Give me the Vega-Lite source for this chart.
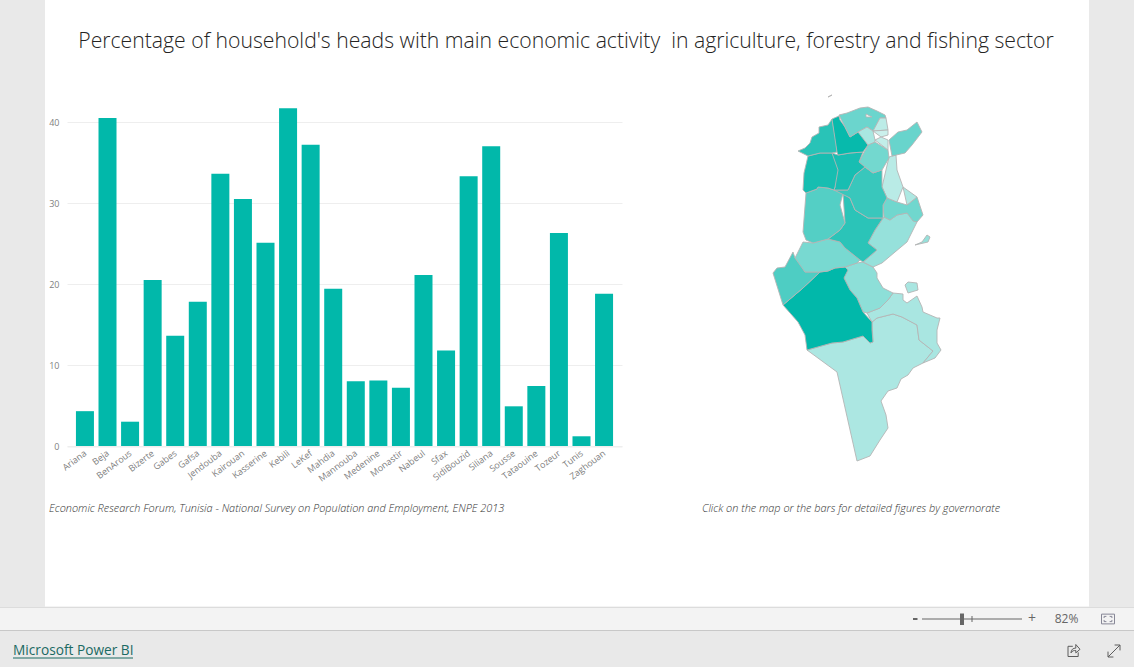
{"$schema":"https://vega.github.io/schema/vega-lite/v6.json","background":"#e9e9e9","padding":0,"spacing":0,"config":{"view":{"stroke":null},"concat":{"spacing":0},"font":"Open Sans"},
"datasets":{
"one":[{"k":1}],
"gov":[{"gov":"Ariana","pct":4.3},{"gov":"Beja","pct":40.5},{"gov":"BenArous","pct":3.0},{"gov":"Bizerte","pct":20.5},{"gov":"Gabes","pct":13.6},{"gov":"Gafsa","pct":17.8},{"gov":"Jendouba","pct":33.6},{"gov":"Kairouan","pct":30.5},{"gov":"Kasserine","pct":25.1},{"gov":"Kebili","pct":41.7},{"gov":"LeKef","pct":37.2},{"gov":"Mahdia","pct":19.4},{"gov":"Mannouba","pct":8.0},{"gov":"Medenine","pct":8.1},{"gov":"Monastir","pct":7.2},{"gov":"Nabeul","pct":21.1},{"gov":"Sfax","pct":11.8},{"gov":"SidiBouzid","pct":33.3},{"gov":"Siliana","pct":37.0},{"gov":"Sousse","pct":4.9},{"gov":"Tataouine","pct":7.4},{"gov":"Tozeur","pct":26.3},{"gov":"Tunis","pct":1.2},{"gov":"Zaghouan","pct":18.8}],
"map":[
{"type":"Feature","properties":{"gov":"Tataouine","pct":7.4},"geometry":{"type":"Polygon","coordinates":[[[100,139],[105,143],[121,147],[130,144],[145,136],[147,121],[161,110],[151,98],[141,93],[136,86],[129,82],[125,73],[116,70],[109,60],[114,46],[116,33],[108,21],[98,5],[85,0],[65,89],[35,111],[60,118],[71,119],[91,125],[98,118],[101,119],[100,131]]]}},
{"type":"Feature","properties":{"gov":"Medenine","pct":8.1},"geometry":{"type":"MultiPolygon","coordinates":[[[[95,148],[108,153],[116,161],[121,168],[131,167],[131,161],[135,158],[145,165],[150,154],[151,149],[165,143],[168,143],[165,131],[165,118],[169,111],[163,103],[151,98],[161,110],[147,121],[145,136],[130,144],[121,147],[105,143],[100,139],[91,149]]],[[[133,176],[136,179],[145,178],[146,171],[136,168],[133,171]]]]}},
{"type":"Feature","properties":{"gov":"Gabes","pct":13.6},"geometry":{"type":"Polygon","coordinates":[[[73,194],[85,198],[91,199],[101,194],[105,188],[105,183],[111,173],[121,168],[116,161],[108,153],[95,148],[91,149],[85,163],[78,171],[72,183],[76,191]]]}},
{"type":"Feature","properties":{"gov":"Kebili","pct":41.7},"geometry":{"type":"Polygon","coordinates":[[[11,156],[31,173],[48,189],[56,190],[63,193],[73,194],[76,191],[72,183],[78,171],[85,163],[91,149],[100,139],[100,131],[101,119],[98,118],[91,125],[71,119],[60,118],[35,111],[33,126],[26,139],[13,144]]]}},
{"type":"Feature","properties":{"gov":"Tozeur","pct":26.3},"geometry":{"type":"Polygon","coordinates":[[[1,188],[5,193],[13,194],[21,209],[23,203],[28,198],[33,189],[48,189],[31,173],[11,156],[3,173]]]}},
{"type":"Feature","properties":{"gov":"Gafsa","pct":17.8},"geometry":{"type":"Polygon","coordinates":[[[23,203],[31,219],[41,218],[56,222],[68,219],[73,213],[88,201],[85,198],[73,194],[63,193],[56,190],[48,189],[33,189],[28,198]]]}},
{"type":"Feature","properties":{"gov":"Sfax","pct":11.8},"geometry":{"type":"MultiPolygon","coordinates":[[[[112,244],[118,241],[125,246],[135,248],[145,239],[135,219],[123,209],[110,198],[101,194],[91,199],[105,211],[96,218],[103,231],[111,243]]],[[[143,216],[150,219],[155,226],[158,224],[156,219],[148,216]]]]}},
{"type":"Feature","properties":{"gov":"SidiBouzid","pct":33.3},"geometry":{"type":"Polygon","coordinates":[[[71,268],[78,263],[83,251],[96,243],[111,243],[103,231],[96,218],[105,211],[91,199],[88,201],[73,213],[68,219],[56,222],[68,231],[73,238],[68,256]]]}},
{"type":"Feature","properties":{"gov":"Kasserine","pct":25.1},"geometry":{"type":"Polygon","coordinates":[[[34,268],[45,272],[46,274],[56,273],[62,271],[71,268],[68,256],[73,238],[68,231],[56,222],[41,218],[34,221],[31,229],[37,246]]]}},
{"type":"Feature","properties":{"gov":"Mahdia","pct":19.4},"geometry":{"type":"Polygon","coordinates":[[[111,256],[115,263],[125,259],[135,256],[145,264],[151,246],[145,239],[141,240],[135,248],[125,246],[118,241],[112,244],[111,243]]]}},
{"type":"Feature","properties":{"gov":"Monastir","pct":7.2},"geometry":{"type":"Polygon","coordinates":[[[131,274],[145,264],[135,256],[125,259]]]}},
{"type":"Feature","properties":{"gov":"Sousse","pct":4.9},"geometry":{"type":"Polygon","coordinates":[[[117,304],[124,306],[125,291],[131,274],[125,259],[115,263],[110,274],[110,291]]]}},
{"type":"Feature","properties":{"gov":"Kairouan","pct":30.5},"geometry":{"type":"Polygon","coordinates":[[[62,271],[76,271],[83,286],[93,294],[101,288],[110,291],[110,274],[115,263],[111,256],[111,243],[96,243],[83,251],[78,263],[71,268]]]}},
{"type":"Feature","properties":{"gov":"Zaghouan","pct":18.8},"geometry":{"type":"Polygon","coordinates":[[[96,316],[103,319],[116,311],[117,303],[110,291],[101,288],[93,294],[87,299],[91,309]]]}},
{"type":"Feature","properties":{"gov":"Siliana","pct":37.0},"geometry":{"type":"Polygon","coordinates":[[[60,308],[66,306],[78,308],[91,309],[87,299],[93,294],[83,286],[76,271],[62,271],[63,274],[66,291]]]}},
{"type":"Feature","properties":{"gov":"LeKef","pct":37.2},"geometry":{"type":"Polygon","coordinates":[[[36,305],[48,308],[60,308],[66,291],[63,274],[62,271],[56,273],[46,274],[45,272],[34,268],[31,271],[32,288],[34,296]]]}},
{"type":"Feature","properties":{"gov":"Jendouba","pct":33.6},"geometry":{"type":"Polygon","coordinates":[[[26,310],[33,313],[38,318],[40,324],[47,328],[47,334],[56,336],[60,342],[64,321],[65,309],[60,308],[48,308],[36,305],[28,308]]]}},
{"type":"Feature","properties":{"gov":"Beja","pct":40.5},"geometry":{"type":"Polygon","coordinates":[[[60,342],[67,345],[68,341],[73,334],[78,324],[86,329],[90,326],[96,316],[91,309],[78,308],[66,306],[65,309],[64,321]]]}},
{"type":"Feature","properties":{"gov":"Bizerte","pct":20.5},"geometry":{"type":"MultiPolygon","coordinates":[[[[67,346],[75,348],[88,353],[96,354],[105,350],[113,346],[114,343],[108,343],[103,333],[101,330],[95,334],[86,329],[78,324],[73,334],[68,341]],[[94,347],[94,344],[100,344],[100,347]]],[[[56,364],[60,366],[59,363]]]]}},
{"type":"Feature","properties":{"gov":"Mannouba","pct":8.0},"geometry":{"type":"Polygon","coordinates":[[[86,329],[95,334],[101,330],[103,321],[103,319],[96,316],[90,326]]]}},
{"type":"Feature","properties":{"gov":"Ariana","pct":4.3},"geometry":{"type":"Polygon","coordinates":[[[108,343],[114,343],[116,331],[101,330],[103,333]]]}},
{"type":"Feature","properties":{"gov":"Tunis","pct":1.2},"geometry":{"type":"Polygon","coordinates":[[[101,330],[116,331],[116,326],[109,324],[103,321]]]}},
{"type":"Feature","properties":{"gov":"BenArous","pct":3.0},"geometry":{"type":"Polygon","coordinates":[[[103,321],[109,324],[116,321],[116,311],[103,319]]]}},
{"type":"Feature","properties":{"gov":"Nabeul","pct":21.1},"geometry":{"type":"Polygon","coordinates":[[[117,321],[126,329],[135,331],[145,339],[150,329],[140,316],[133,308],[120,305],[117,311]]]}}
]},
"vconcat":[
{"spacing":0,"bounds":"flush","hconcat":[
{"width":44.5,"height":606.5,"data":{"values":[]},"mark":{"type":"text"}},
{"width":1044,"height":606.5,"view":{"fill":"#ffffff","stroke":null},
"layer":[
{"data":{"name":"gov"},"mark":{"type":"bar","color":"#01b8aa"},
"encoding":{
"x":{"field":"gov","type":"nominal","sort":null,"title":null,"scale":{"range":[22,577],"paddingInner":0.2025,"paddingOuter":0.396},
"axis":{"orient":"bottom","offset":-160,"labelAngle":-37,"labelAlign":"right","labelBaseline":"top","labelFontSize":9,"labelColor":"#808080","labelPadding":2,"labelOffset":-2,"ticks":false,"domain":true,"domainColor":"#eeeeee","grid":false,"labelOverlap":false,"labelFont":"Open Sans"}},
"y":{"field":"pct","type":"quantitative","title":null,"scale":{"domain":[0,45],"range":[446,81.5],"nice":false},
"axis":{"orient":"left","offset":-18,"values":[0,10,20,30,40],"ticks":false,"domain":false,"grid":true,"gridColor":"#eeeeee","labelFontSize":9,"labelColor":"#808080","labelPadding":4,"labelFont":"Open Sans"}}}},
{"data":{"name":"map"},"mark":{"type":"geoshape","stroke":"#b4b4b4","strokeWidth":0.9},
"projection":{"type":"identity","reflectY":true,"scale":1,"translate":[727,461]},
"encoding":{"color":{"field":"properties.pct","type":"quantitative","legend":null,"scale":{"domain":[1.2,41.7],"range":["#cbf0ec","#01b8aa"],"interpolate":"rgb"}}}},
{"data":{"values":[{"label":"Percentage of household's heads with main economic activity \u00a0in agriculture, forestry and fishing sector"}]},"mark":{"type":"text","x":521,"y":42,"align":"center","baseline":"middle","fontSize":21.2,"fontWeight":300,"color":"#252423","font":"Open Sans"},"encoding":{"text":{"field":"label"}}},
{"data":{"values":[{"label":"Economic Research Forum, Tunisia - National Survey on Population and Employment, ENPE 2013"}]},"mark":{"type":"text","x":4,"y":509,"align":"left","baseline":"middle","fontSize":10.9,"fontStyle":"italic","fontWeight":300,"color":"#333333","font":"Open Sans"},"encoding":{"text":{"field":"label"}}},
{"data":{"values":[{"label":"Click on the map or the bars for detailed figures by governorate"}]},"mark":{"type":"text","x":806,"y":509,"align":"center","baseline":"middle","fontSize":10.9,"fontStyle":"italic","fontWeight":300,"color":"#333333","font":"Open Sans"},"encoding":{"text":{"field":"label"}}}
]}
]},
{"width":1134,"height":1,"view":{"fill":"#dcdcdc","stroke":null},"data":{"values":[]},"mark":{"type":"text"}},
{"width":1134,"height":22,"view":{"fill":"#f3f3f3","stroke":null},"data":{"name":"one"},
"layer":[
{"mark":{"type":"rect","x":922,"x2":1022,"y":10.5,"y2":11.5,"color":"#666666"},"encoding":{}},
{"mark":{"type":"rect","x":913,"x2":917.5,"y":10,"y2":12,"color":"#666666"},"encoding":{}},
{"mark":{"type":"rect","x":971.5,"x2":972.5,"y":8,"y2":14,"color":"#666666"},"encoding":{}},
{"mark":{"type":"rect","x":960,"x2":964,"y":5.5,"y2":17,"color":"#666666"},"encoding":{}},
{"mark":{"type":"point","x":1108,"y":11,"size":169,"filled":false,"color":"#5a5a70","strokeWidth":1,"shape":"M-1,-0.75 H1 V0.75 H-1 Z M-0.6,-0.15 V-0.4 H-0.25 M0.25,-0.4 H0.6 V-0.15 M0.6,0.15 V0.4 H0.25 M-0.25,0.4 H-0.6 V0.15"},"encoding":{}},
{"data":{"values":[{"label":"+"}]},"mark":{"type":"text","x":1032,"y":11,"align":"center","baseline":"middle","fontSize":14,"color":"#666666","font":"Open Sans"},"encoding":{"text":{"field":"label"}}},
{"data":{"values":[{"label":"82%"}]},"mark":{"type":"text","x":1066.5,"y":11,"align":"center","baseline":"middle","fontSize":12,"color":"#666666","font":"Open Sans"},"encoding":{"text":{"field":"label"}}}
]},
{"width":1134,"height":1,"view":{"fill":"#c8c8c8","stroke":null},"data":{"values":[]},"mark":{"type":"text"}},
{"width":1134,"height":36,"view":{"fill":"#e9e9e9","stroke":null},"data":{"name":"one"},
"layer":[
{"data":{"values":[{"label":"Microsoft Power BI"}]},"mark":{"type":"text","x":13,"y":20,"align":"left","baseline":"middle","fontSize":13.7,"color":"#1b6a63","font":"Open Sans"},"encoding":{"text":{"field":"label"}}},
{"mark":{"type":"rect","x":13,"x2":133,"y":26.5,"y2":27.5,"color":"#1b6a63"},"encoding":{}},
{"mark":{"type":"point","x":1114,"y":20,"size":144,"filled":false,"color":"#222222","strokeWidth":1,"shape":"M-1,1 L1,-1 M0.1,-1 H1 V-0.1 M-1,0.1 V1 H-0.1"},"encoding":{}},
{"mark":{"type":"point","x":1074,"y":19.5,"size":144,"filled":false,"color":"#222222","strokeWidth":1,"shape":"M-0.2,-0.7 H-1 V1 H0.7 V0.3 M-0.5,0.4 C-0.5,-0.2 -0.1,-0.4 0.3,-0.4 V-1 L1,-0.2 L0.3,0.4 V0 C0,0 -0.3,0 -0.5,0.4 Z"},"encoding":{}}
]}
]}
